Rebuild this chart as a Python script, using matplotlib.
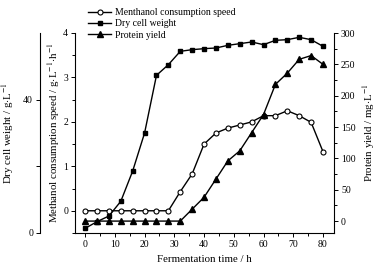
import matplotlib
matplotlib.use("Agg")
import matplotlib.pyplot as plt
from matplotlib.ticker import MultipleLocator, FixedLocator

plt.rcParams['font.family'] = ['Liberation Serif', 'DejaVu Serif']
plt.rcParams['mathtext.fontset'] = 'stix'

time_h = [0, 4, 8, 12, 16, 20, 24, 28, 32, 36, 40, 44, 48, 52, 56, 60, 64, 68, 72, 76, 80]
methanol_speed = [0, 0, 0, 0, 0, 0, 0, 0, 0.43, 0.83, 1.5, 1.75, 1.86, 1.93, 2.0,
                  2.14, 2.14, 2.25, 2.14, 1.99, 1.33]
dry_cell_weight = [1.4, 3.4, 5.1, 9.5, 18.6, 30.0, 47.3, 50.5, 54.5, 55.0, 55.3, 55.5,
                   56.3, 56.8, 57.3, 56.5, 57.8, 58.0, 58.7, 58.0, 56.0]
protein_yield = [0, 0, 0, 0, 0, 0, 0, 0, 0, 19, 38, 67, 96, 112, 141, 170, 218, 236,
                 258, 264, 250]

labels = ['Menthanol consumption speed', 'Dry cell weight', 'Protein yield']

W, H = 381, 271
fig = plt.figure(figsize=(W / 100, H / 100), dpi=100)
L, R, B, T = 75, 334, 233, 33
ax = fig.add_axes([L / W, 1 - B / H, (R - L) / W, (B - T) / H])
ax_p = ax.twinx()
ax_d = ax.twinx()

lw = 1.0
l1, = ax.plot(time_h, methanol_speed, '-o', color='black', lw=lw, ms=3.6,
              mfc='white', mec='black', mew=0.8, zorder=3)
l3, = ax_p.plot(time_h, protein_yield, '-^', color='black', lw=lw, ms=4.2,
                mfc='black', mec='black')
l2, = ax_d.plot(time_h, dry_cell_weight, '-s', color='black', lw=lw, ms=3.2,
                mfc='black', mec='black')

ax.set_xlim(-3.4, 83.7)
ax.set_ylim(-0.5, 4.0)
ax_p.set_ylim(-19, 300)
ax_d.set_ylim(0, 60)

ax.xaxis.set_major_locator(MultipleLocator(10))
ax.xaxis.set_minor_locator(MultipleLocator(5))
ax.yaxis.set_major_locator(FixedLocator([0, 1, 2, 3, 4]))
ax.yaxis.set_minor_locator(FixedLocator([-0.5, 0.5, 1.5, 2.5, 3.5]))
ax_p.yaxis.set_major_locator(FixedLocator([0, 50, 100, 150, 200, 250, 300]))
ax_p.yaxis.set_minor_locator(FixedLocator([25, 75, 125, 175, 225, 275]))
ax_d.yaxis.set_major_locator(FixedLocator([0, 20, 40]))
ax_d.set_yticklabels(['0', '', '40'])

for a in (ax, ax_p, ax_d):
    a.spines['top'].set_visible(False)
    for s in a.spines.values():
        s.set_linewidth(0.8)
    a.tick_params(which='both', direction='out', labelsize=7, width=0.7, pad=2)
    a.tick_params(which='major', length=3)
    a.tick_params(which='minor', length=2)

ax.spines['right'].set_visible(False)
ax_p.spines['left'].set_visible(False)
ax_p.spines['bottom'].set_visible(False)
ax_d.spines['right'].set_visible(False)
ax_d.spines['bottom'].set_visible(False)
ax_d.spines['left'].set_visible(True)
ax_d.spines['left'].set_position(('axes', -35 / (R - L)))
ax_d.yaxis.set_ticks_position('left')
ax_d.yaxis.set_label_position('left')

lab_fs = 7.8
ax.set_xlabel('Fermentation time / h', fontsize=lab_fs, labelpad=4)
ax.set_ylabel('Methanol consumption speed / g$\\cdot$L$^{-1}$$\\cdot$h$^{-1}$', fontsize=lab_fs, labelpad=1)
ax_d.set_ylabel('Dry cell weight / g$\\cdot$L$^{-1}$', fontsize=lab_fs, labelpad=5)
ax_p.set_ylabel('Protein yield / mg$\\cdot$L$^{-1}$', fontsize=lab_fs, rotation=90, labelpad=4)

fig.legend([l1, l2, l3], labels, loc='upper left', bbox_to_anchor=(86 / W, 1 - 6 / H),
           frameon=False, fontsize=7, handlelength=2.4, handletextpad=0.4,
           labelspacing=0.25, borderaxespad=0, borderpad=0.2)

fig.savefig('out.png', dpi=100)
